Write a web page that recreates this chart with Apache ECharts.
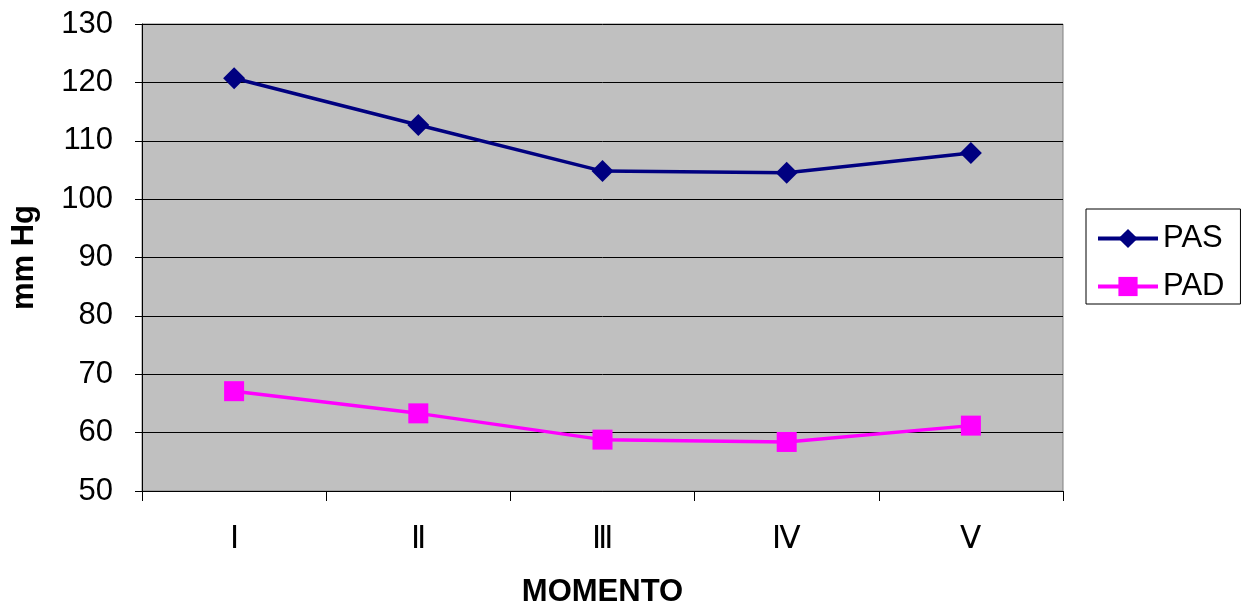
<!DOCTYPE html>
<html>
<head>
<meta charset="utf-8">
<script src="https://cdn.jsdelivr.net/npm/echarts@6/dist/echarts.min.js"></script>
<style>
html, body { margin: 0; padding: 0; background: #fff; }
#chart { width: 1245px; height: 610px; }
</style>
</head>
<body>
<div id="chart"></div>
<script>
// momentos
var momentos = ['Ⅰ', 'Ⅱ', 'Ⅲ', 'Ⅳ', 'Ⅴ'];
// presion arterial sistolica / diastolica
var pas = [120.7, 112.7, 104.8, 104.5, 107.9];
var pad = [67.1, 63.3, 58.8, 58.4, 61.2];

var chart = echarts.init(document.getElementById('chart'));
var fuente = "'Liberation Sans', Arial, sans-serif";
var option = {
    textStyle: { fontFamily: fuente },
    animation: false,
    grid: {
        left: 142,
        right: 182,
        top: 24,
        bottom: 119,
        outerBoundsMode: 'none',
        containLabel: false,
        show: true,
        backgroundColor: '#C0C0C0',
        borderColor: '#808080',
        borderWidth: 1
    },
    legend: {
        orient: 'vertical',
        left: 1086,
        top: 209,
        itemWidth: 60,
        itemHeight: 24,
        itemGap: 17,
        padding: [14, 16, 2, 10],
        borderColor: '#000',
        borderWidth: 1,
        backgroundColor: '#fff',
        lineStyle: { width: 4 },
        textStyle: { fontSize: 31, color: '#000', fontFamily: fuente },
        data: ['PAS', 'PAD']
    },
    xAxis: {
        type: 'category',
        data: momentos,
        boundaryGap: true,
        name: 'MOMENTO',
        nameLocation: 'middle',
        nameGap: 86,
        nameTextStyle: { fontSize: 31, fontWeight: 'bold', color: '#000' },
        axisLine: { lineStyle: { color: '#000', width: 1 } },
        axisTick: { show: true, length: 10, lineStyle: { color: '#000' } },
        axisLabel: { fontSize: 31, color: '#000', margin: 33 },
        splitLine: { show: false }
    },
    yAxis: {
        type: 'value',
        min: 50,
        max: 130,
        interval: 10,
        name: 'mm Hg',
        nameLocation: 'middle',
        nameGap: 102,
        nameRotate: 90,
        nameTextStyle: { fontSize: 31, fontWeight: 'bold', color: '#000' },
        axisLine: { show: true, lineStyle: { color: '#000', width: 1 } },
        axisTick: { show: true, length: 7, lineStyle: { color: '#000' } },
        axisLabel: { fontSize: 31, color: '#000', margin: 29 },
        splitLine: { show: true, lineStyle: { color: '#000', width: 1 } }
    },
    series: [
        {
            name: 'PAS',
            type: 'line',
            data: pas,
            symbol: 'diamond',
            symbolSize: 22,
            itemStyle: { color: '#000080' },
            lineStyle: { color: '#000080', width: 3.5 }
        },
        {
            name: 'PAD',
            type: 'line',
            data: pad,
            symbol: 'rect',
            symbolSize: 20,
            itemStyle: { color: '#FF00FF' },
            lineStyle: { color: '#FF00FF', width: 3.5 }
        }
    ]
};
chart.setOption(option);
</script>
</body>
</html>
